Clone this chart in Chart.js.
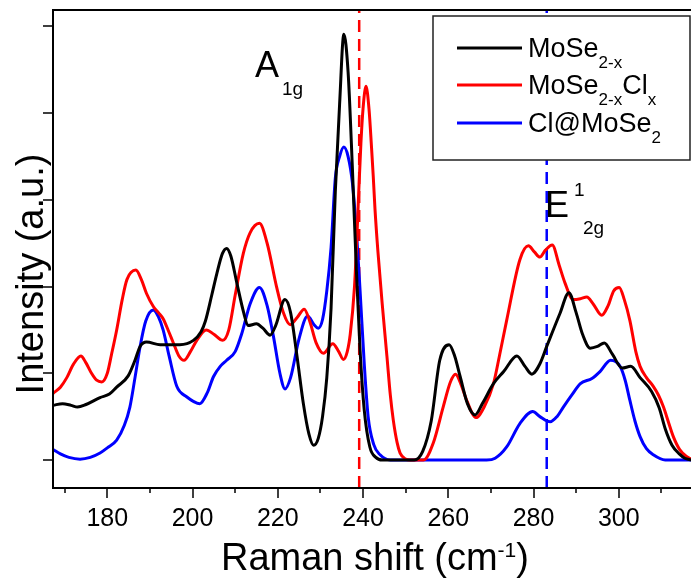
<!DOCTYPE html>
<html>
<head>
<meta charset="utf-8">
<script src="https://cdn.jsdelivr.net/npm/chart.js@4.4.0/dist/chart.umd.min.js"></script>
<style>
  html, body { margin: 0; padding: 0; background: #fff; }
  #ramanChart { display: block; }
</style>
</head>
<body>
<canvas id="ramanChart" width="691" height="580"></canvas>
<script>
// Raman spectra, intensity in arbitrary units (one unit = one y tick)
const blackShift = [167.3,169.5,171.5,173,175,178.3,180.5,182.2,184.9,186.5,187.7,189.2,192.4,197,200.2,202,203,204.5,205.7,207,208,209,210.4,212,213,215,216.5,218.2,219.5,221.7,223,224.5,226,227.3,228.4,229.5,230.5,231.5,232.5,233.5,234.5,235.5,236.5,237.5,238.5,239.3,240.3,241.6,243,244.5,252,254,256,258,260.2,261.5,262.8,264.5,266.3,268,270.6,273,276.1,278,279.6,281.5,283.1,286.2,288.3,290,291.5,293.3,295,296.6,298.5,300.8,302.8,305,307.7,309.5,310.9,312.5,314.2,315.5,317];
const blackIntensity = [0.63,0.65,0.63,0.61,0.64,0.72,0.76,0.84,0.97,1.15,1.31,1.36,1.33,1.33,1.38,1.48,1.60,1.90,2.15,2.38,2.44,2.35,2.04,1.70,1.55,1.57,1.52,1.44,1.55,1.85,1.70,1.20,0.65,0.30,0.17,0.25,0.50,0.95,1.75,3.1,4.1,4.91,4.47,3.37,2.12,1.27,0.57,0.15,0.03,0,0,0.1,0.45,1.15,1.33,1.2,0.96,0.65,0.52,0.65,0.88,1.02,1.2,1.08,0.99,1.11,1.31,1.69,1.93,1.7,1.45,1.29,1.31,1.35,1.22,1.06,1.08,0.95,0.79,0.6,0.36,0.17,0.07,0.02,0];

const redShift = [167.3,169,170.5,172,173.8,175,176.3,177.5,178.7,180,181,182.2,183.5,184.6,186.7,188,189.2,190.8,192,193.1,194.5,195.5,196.8,198,199.5,201,203.2,205,207.1,208.5,210,211.9,213.5,215.7,217.5,219.7,221.3,222.9,224.5,226.2,227.5,229,230.7,232.9,234.3,235.4,236.3,237,238,238.5,239,239.5,240,240.7,241.4,242,242.4,242.8,243.5,244.5,245.6,246.4,247.1,248,248.7,250,251,254.2,256.5,258.8,260.5,261.7,263,264.3,266.5,268.5,270.6,272,273.7,276.8,278.8,280.2,281.5,282.8,284.4,286,287.4,289.3,291,292.5,294,296,297.5,298.8,300.1,301.3,302.6,304,305,306.5,308.1,309.3,310.5,311.7,312.8,314.3,315.9,317];
const redIntensity = [0.77,0.84,0.95,1.10,1.20,1.12,1.00,0.92,0.90,1.0,1.22,1.5,1.85,2.08,2.19,2.08,1.92,1.77,1.70,1.63,1.47,1.35,1.20,1.15,1.25,1.38,1.50,1.45,1.38,1.5,1.9,2.38,2.62,2.73,2.5,2.0,1.70,1.56,1.64,1.74,1.6,1.35,1.23,1.34,1.25,1.16,1.25,1.45,2.0,2.5,3.1,3.65,4.05,4.31,4.05,3.6,3.27,2.9,2.4,1.8,1.2,0.75,0.46,0.2,0.08,0.01,0,0,0.2,0.61,0.90,0.99,0.87,0.69,0.49,0.62,0.88,1.2,1.61,2.31,2.47,2.40,2.34,2.42,2.48,2.25,2.04,1.85,1.86,1.88,1.80,1.67,1.78,1.95,1.99,1.85,1.61,1.25,1.08,0.95,0.85,0.75,0.61,0.43,0.27,0.12,0.04,0.01];

const blueShift = [167.3,169,171,173.6,176,178.3,180,182.2,184,185.3,186.5,187.7,189,190.8,192,193.1,194.5,196.3,198.6,201.7,203.5,204.9,206.5,208,210,211.5,213.5,215.7,217.5,219,220.5,221.7,223,225,227,228.5,229.5,230.5,231.5,232.5,233.5,234.5,235.5,236.5,237.5,238.5,239.3,240.3,241.2,242.5,244,246.4,269,271,273.7,276.8,279.8,281.5,283.9,285.5,287,289,291,293.7,295.6,298.1,300.3,301.5,302.6,303.8,305,306.5,308.1,310.9,317];
const blueIntensity = [0.12,0.07,0.03,0.01,0.03,0.08,0.14,0.23,0.40,0.61,0.95,1.31,1.6,1.73,1.65,1.50,1.2,0.85,0.73,0.65,0.78,0.96,1.08,1.15,1.25,1.45,1.8,1.99,1.78,1.42,1.00,0.82,0.95,1.4,1.66,1.56,1.52,1.62,1.95,2.45,3.25,3.5,3.61,3.5,3.2,2.6,1.96,1.1,0.5,0.18,0.06,0,0,0.02,0.15,0.42,0.56,0.50,0.44,0.50,0.61,0.75,0.88,0.94,1.02,1.15,1.08,0.92,0.69,0.45,0.27,0.13,0.06,0,0];

// peak markers (A1g and E1_2g positions)
const a1gShift = 239.1;
const e2gShift = 283.1;

const xMajorTicks = [180, 200, 220, 240, 260, 280, 300];
const xMinorTicks = [170, 190, 210, 230, 250, 270, 290, 310];
const yTicks = [0, 1, 2, 3, 4, 5];
const xRange = [167.26, 316.95];
const yRange = [-0.323, 5.19];

const FONT = '"Liberation Sans", Arial, sans-serif';

function toPoints(xs, ys) {
  return xs.map((x, i) => ({ x: x, y: ys[i] }));
}

// draws a run of text pieces with sub/superscripts, left to right
function drawRuns(ctx, x, y, runs) {
  runs.forEach((r) => {
    ctx.font = r.size + "px " + FONT;
    ctx.fillText(r.t, x, y + (r.dy || 0));
    x += ctx.measureText(r.t).width + (r.gap || 0);
  });
}

const decorPlugin = {
  id: "decor",
  afterDatasetsDraw(chart) {
    const ctx = chart.ctx;
    const a = chart.chartArea;
    const xs = chart.scales.x;
    const ys = chart.scales.y;
    ctx.save();

    // frame
    ctx.strokeStyle = "#000";
    ctx.lineWidth = 2;
    ctx.beginPath();
    ctx.moveTo(a.right, a.top);
    ctx.lineTo(a.left, a.top);
    ctx.lineTo(a.left, a.bottom);
    ctx.lineTo(a.right, a.bottom);
    ctx.stroke();

    // x ticks, outward
    ctx.lineWidth = 1.5;
    ctx.beginPath();
    xMajorTicks.forEach((v) => {
      const px = Math.round(xs.getPixelForValue(v));
      ctx.moveTo(px, a.bottom);
      ctx.lineTo(px, a.bottom + 10);
    });
    xMinorTicks.forEach((v) => {
      const px = Math.round(xs.getPixelForValue(v));
      ctx.moveTo(px, a.bottom);
      ctx.lineTo(px, a.bottom + 5);
    });
    yTicks.forEach((v) => {
      const py = Math.round(ys.getPixelForValue(v));
      ctx.moveTo(a.left, py);
      ctx.lineTo(a.left - 10, py);
    });
    ctx.stroke();

    // x tick labels
    ctx.fillStyle = "#000";
    ctx.textAlign = "center";
    ctx.textBaseline = "alphabetic";
    ctx.font = "25px " + FONT;
    xMajorTicks.forEach((v) => {
      ctx.fillText(String(v), xs.getPixelForValue(v), 526);
    });

    // axis titles
    ctx.textAlign = "left";
    drawRuns(ctx, 221, 570, [
      { t: "Raman shift (cm", size: 38 },
      { t: "-1", size: 21, dy: -13 },
      { t: ")", size: 38 },
    ]);
    ctx.save();
    ctx.translate(43, 274);
    ctx.rotate(-Math.PI / 2);
    ctx.textAlign = "center";
    ctx.font = "38px " + FONT;
    ctx.fillText("Intensity (a.u.)", 0, 0);
    ctx.restore();

    // peak labels
    drawRuns(ctx, 255, 77, [
      { t: "A", size: 36, gap: 3 },
      { t: "1g", size: 19, dy: 18 },
    ]);
    drawRuns(ctx, 545, 217, [{ t: "E", size: 36 }]);
    drawRuns(ctx, 574, 196, [{ t: "1", size: 19 }]);
    drawRuns(ctx, 583, 234, [{ t: "2g", size: 19 }]);

    // legend
    ctx.fillStyle = "#fff";
    ctx.fillRect(433, 16, 257, 144);
    ctx.strokeStyle = "#222";
    ctx.lineWidth = 1.5;
    ctx.strokeRect(433, 16, 257, 144);

    const rows = [
      { color: "#000", y: 48, runs: [{ t: "MoSe", size: 27 }, { t: "2-x", size: 17, dy: 11 }] },
      { color: "#ff0000", y: 85, runs: [{ t: "MoSe", size: 27 }, { t: "2-x", size: 17, dy: 11 }, { t: "Cl", size: 27 }, { t: "x", size: 17, dy: 11 }] },
      { color: "#0000ff", y: 123, runs: [{ t: "Cl@MoSe", size: 27 }, { t: "2", size: 17, dy: 11 }] },
    ];
    rows.forEach((row) => {
      ctx.strokeStyle = row.color;
      ctx.lineWidth = 3;
      ctx.beginPath();
      ctx.moveTo(457, row.y);
      ctx.lineTo(522, row.y);
      ctx.stroke();
      ctx.fillStyle = "#000";
      drawRuns(ctx, 528, row.y + 9, row.runs);
    });

    ctx.restore();
  },
};

const ctx = document.getElementById("ramanChart").getContext("2d");
const ramanChart = new Chart(ctx, {
  type: "line",
  data: {
    datasets: [
      {
        label: "MoSe2-x",
        data: toPoints(blackShift, blackIntensity),
        borderColor: "#000000",
        borderWidth: 3,
        pointRadius: 0,
        cubicInterpolationMode: "monotone",
        fill: false,
      },
      {
        label: "MoSe2-xClx",
        data: toPoints(redShift, redIntensity),
        borderColor: "#ff0000",
        borderWidth: 3,
        pointRadius: 0,
        cubicInterpolationMode: "monotone",
        fill: false,
      },
      {
        label: "Cl@MoSe2",
        data: toPoints(blueShift, blueIntensity),
        borderColor: "#0000ff",
        borderWidth: 3,
        pointRadius: 0,
        cubicInterpolationMode: "monotone",
        fill: false,
      },
      {
        label: "A1g",
        data: [{ x: a1gShift, y: yRange[0] }, { x: a1gShift, y: yRange[1] }],
        borderColor: "#ff0000",
        borderWidth: 2.5,
        borderDash: [12, 7],
        pointRadius: 0,
        fill: false,
      },
      {
        label: "E2g",
        data: [{ x: e2gShift, y: yRange[0] }, { x: e2gShift, y: yRange[1] }],
        borderColor: "#0000ff",
        borderWidth: 2.5,
        borderDash: [12, 7],
        pointRadius: 0,
        fill: false,
      },
    ],
  },
  options: {
    responsive: false,
    animation: false,
    devicePixelRatio: 1,
    layout: { padding: { top: 10, right: 0, left: 0, bottom: 0 } },
    plugins: {
      legend: { display: false },
      tooltip: { enabled: false },
    },
    scales: {
      x: {
        type: "linear",
        min: xRange[0],
        max: xRange[1],
        grid: { display: false },
        border: { display: false },
        ticks: { display: false },
        afterFit(scale) {
          scale.height = 92;
        },
      },
      y: {
        min: yRange[0],
        max: yRange[1],
        grid: { display: false },
        border: { display: false },
        ticks: { display: false },
        afterFit(scale) {
          scale.width = 53;
        },
      },
    },
  },
  plugins: [decorPlugin],
});
</script>
</body>
</html>
